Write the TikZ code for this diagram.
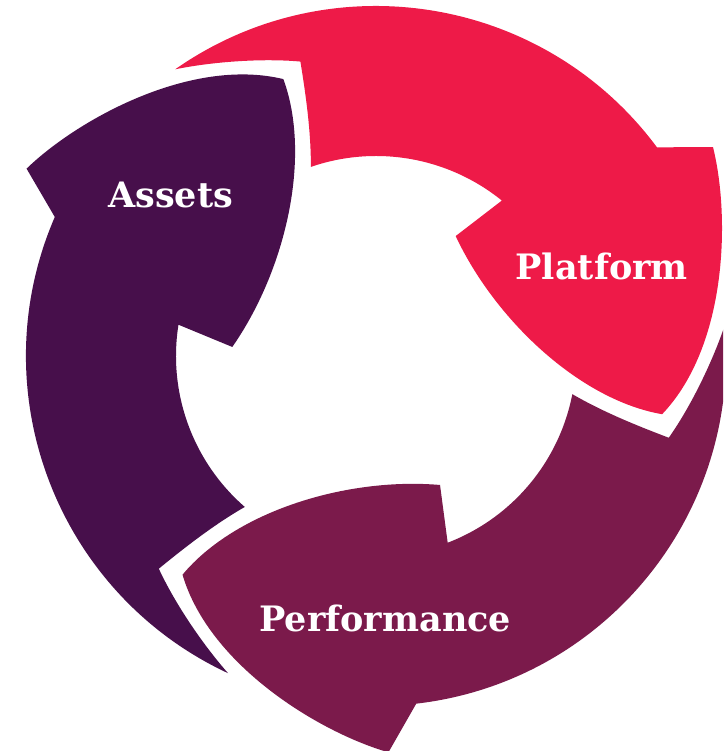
\documentclass[tikz,border=0pt]{standalone}
\usepackage{fontspec}
\setmainfont{DejaVu Serif}
\definecolor{cAssets}{HTML}{470F4B}
\definecolor{cPlatform}{HTML}{EE1A48}
\definecolor{cPerf}{HTML}{7B1A4B}
\tikzset{
  lbl/.style={text=white, font=\fontsize{35}{40}\selectfont\bfseries, anchor=base, inner sep=0pt}
}
\newcommand{\cycarrow}[2]{%
  \begin{scope}[rotate=#1]
  \fill[#2] (125:350) arc[start angle=125, end angle=36.6, radius=350]
    -- (31.8:396.5)
    .. controls (354,141) and (352,11) .. (-11.5:292)
    .. controls (204,-44) and (119,36) .. (56.4:144)
    -- (51:200)
    arc[start angle=51, end angle=109, radius=200]
    .. controls (-65,224) and (-70,260) .. (104.4:304)
    .. controls (-115,298) and (-165,294) .. (125:350)
    -- cycle;
  \end{scope}}
\begin{document}
\begin{tikzpicture}[x=1pt,y=1pt]
\useasboundingbox (-376,-395) rectangle (347,356);
\fill[white] (-376,-395) rectangle (347,356);
\clip (-376,-395) rectangle (347,356);
\cycarrow{0}{cPlatform}
\cycarrow{120}{cAssets}
\cycarrow{-120}{cPerf}
\node[lbl] (assets) at (-205.4,148) {Assets};
\node[lbl] (platform) at (225.7,76.7) {Platform};
\node[lbl] (performance) at (9.2,-275.2) {Performance};
\end{tikzpicture}
\end{document}
